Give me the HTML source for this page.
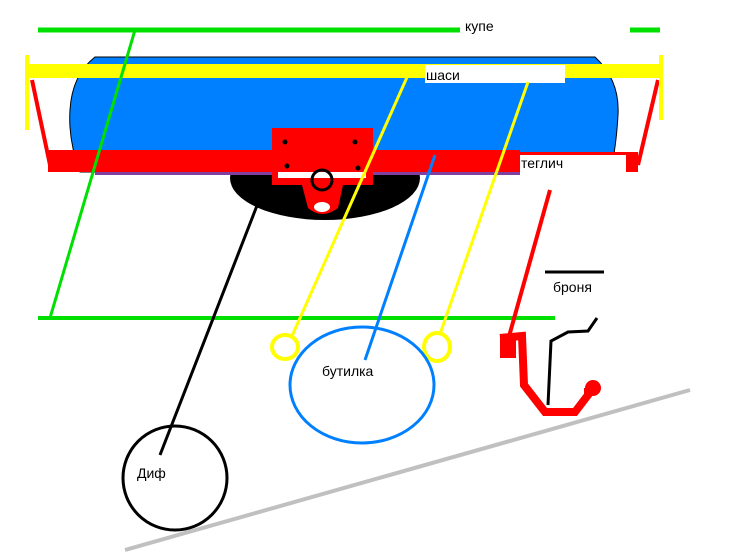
<!DOCTYPE html>
<html><head><meta charset="utf-8"><style>html,body{margin:0;padding:0;background:#fff}svg{display:block}text{font-family:"Liberation Sans",sans-serif;font-size:14px;fill:#000}</style></head>
<body>
<svg width="738" height="554" viewBox="0 0 738 554" xmlns="http://www.w3.org/2000/svg">
<rect width="738" height="554" fill="#fff"/>
<ellipse cx="325" cy="178" rx="95" ry="42" fill="#000"/>
<path d="M95,57 L595,57 Q620,80 618,115 Q616,150 610,172 L80,172 Q68,140 70,110 Q72,75 95,57 Z" fill="#0080ff" stroke="#000" stroke-width="1"/>
<rect x="48" y="150" width="472" height="22" fill="#ff0000"/>
<rect x="95" y="172" width="425" height="3" fill="#8040a0"/>
<rect x="520" y="155" width="108" height="19" fill="#fff"/>
<rect x="520" y="152" width="110" height="3" fill="#ff0000"/>
<rect x="626" y="152" width="12" height="20" fill="#ff0000"/>
<line x1="32" y1="80" x2="50" y2="165" stroke="#ff0000" stroke-width="4"/>
<line x1="658" y1="80" x2="638" y2="165" stroke="#ff0000" stroke-width="4"/>
<rect x="27" y="64" width="635" height="14" fill="#ffff00"/>
<rect x="25" y="55" width="4" height="75" fill="#ffff00"/>
<rect x="659" y="55" width="4" height="65" fill="#ffff00"/>
<rect x="425" y="65" width="140" height="18" fill="#fff"/>
<text x="426" y="80">шаси</text>
<rect x="272" y="128" width="101" height="57" fill="#ff0000"/>
<rect x="278" y="172" width="88" height="6" fill="#fff"/>
<circle cx="285" cy="142" r="2.5" fill="#000"/><circle cx="355" cy="142" r="2.5" fill="#000"/>
<circle cx="287" cy="166" r="2.5" fill="#000"/><circle cx="358" cy="168" r="2.5" fill="#000"/>
<path d="M302,185 L343,185 L338,208 Q322,220 308,208 Z" fill="#ff0000"/>
<ellipse cx="322" cy="207" rx="8" ry="5" fill="#fff"/>
<circle cx="322" cy="180" r="10" fill="none" stroke="#000" stroke-width="3"/>
<line x1="38" y1="30" x2="460" y2="30" stroke="#00e000" stroke-width="5"/>
<line x1="630" y1="30" x2="660" y2="30" stroke="#00e000" stroke-width="5"/>
<line x1="135" y1="30" x2="50" y2="318" stroke="#00e000" stroke-width="3"/>
<line x1="38" y1="318" x2="555" y2="318" stroke="#00e000" stroke-width="4"/>
<text x="465" y="31">купе</text>
<text x="521" y="168">теглич</text>
<line x1="408" y1="75" x2="292" y2="336" stroke="#ffff00" stroke-width="3"/>
<line x1="528" y1="82" x2="440" y2="334" stroke="#ffff00" stroke-width="3"/>
<ellipse cx="285" cy="347" rx="13" ry="12" fill="none" stroke="#ffff00" stroke-width="4"/>
<ellipse cx="437" cy="347" rx="13" ry="14" fill="none" stroke="#ffff00" stroke-width="4"/>
<line x1="435" y1="155" x2="365" y2="360" stroke="#0080ff" stroke-width="3"/>
<ellipse cx="362" cy="385" rx="72" ry="58" fill="none" stroke="#0080ff" stroke-width="3"/>
<text x="322" y="376">бутилка</text>
<line x1="265" y1="185" x2="160" y2="455" stroke="#000" stroke-width="3"/>
<circle cx="175" cy="478" r="52" fill="none" stroke="#000" stroke-width="3"/>
<text x="137" y="478">Диф</text>
<line x1="125" y1="550" x2="690" y2="390" stroke="#c0c0c0" stroke-width="4"/>
<line x1="550" y1="190" x2="508" y2="340" stroke="#ff0000" stroke-width="4"/>
<path d="M500,338 L522,336 L524,385 L545,412 L575,412 L588,395 L588,388" fill="none" stroke="#ff0000" stroke-width="8"/>
<rect x="500" y="338" width="16" height="20" fill="#ff0000"/>
<circle cx="593" cy="388" r="8" fill="#ff0000"/>
<line x1="545" y1="272" x2="604" y2="272" stroke="#000" stroke-width="3"/>
<text x="553" y="292">броня</text>
<path d="M597,318 L588,331 L568,332 L551,341 L548,405" fill="none" stroke="#000" stroke-width="3"/>
</svg>
</body></html>
